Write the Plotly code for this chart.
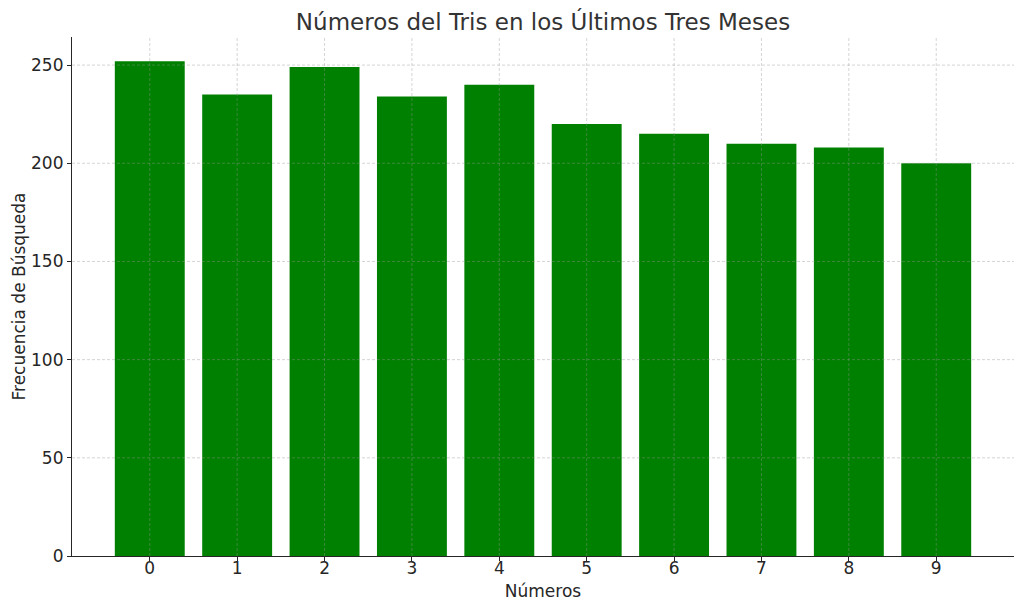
import plotly.graph_objects as go

numeros = [0, 1, 2, 3, 4, 5, 6, 7, 8, 9]
frecuencia = [252, 235, 249, 234, 240, 220, 215, 210, 208, 200]
y_ticks = [0, 50, 100, 150, 200, 250]

fig = go.Figure()
fig.add_trace(go.Bar(x=numeros, y=frecuencia, width=0.8,
                     marker=dict(color="green", line=dict(width=0))))

# grid drawn on top of the bars, semi-transparent like the original
grid = dict(color="rgba(150,150,150,0.5)", width=0.8, dash="3px,2px")
for v in y_ticks[1:]:
    fig.add_hline(y=v, line=grid, layer="above")
for n in numeros:
    fig.add_vline(x=n, line=grid, layer="above")

fig.update_layout(
    width=1024, height=611,
    margin=dict(l=72, r=10, t=37, b=55),
    plot_bgcolor="white", paper_bgcolor="white",
    font=dict(family="DejaVu Sans", size=17, color="#262626"),
    title=dict(text="Números del Tris en los Últimos Tres Meses", xref="paper", x=0.5, xanchor="center",
               yref="container", y=0.978, yanchor="top", font=dict(size=23, color="#333333")),
    showlegend=False,
)
fig.update_xaxes(
    range=[-0.89, 9.89], tickvals=numeros, ticks="outside", ticklen=4, tickcolor="#262626",
    tickfont=dict(size=17), ticklabelstandoff=-8,
    showline=True, linecolor="#262626", linewidth=1.2, mirror=False,
    showgrid=False, layer="above traces", zeroline=False,
    title=dict(text="Números", font=dict(size=17), standoff=8),
)
fig.update_yaxes(
    range=[0, 264.3], tickvals=y_ticks, ticks="outside", ticklen=4, tickcolor="#262626",
    tickfont=dict(size=17),
    showline=True, linecolor="#262626", linewidth=1.2, mirror=False,
    showgrid=False, layer="above traces", zeroline=False,
    title=dict(text="Frecuencia de Búsqueda", font=dict(size=17), standoff=1),
)

# drop the default page margin so the figure sits at the window corner
fig.write_html("out.html", config={"displayModeBar": False},
               post_script="document.body.style.margin='0';")
